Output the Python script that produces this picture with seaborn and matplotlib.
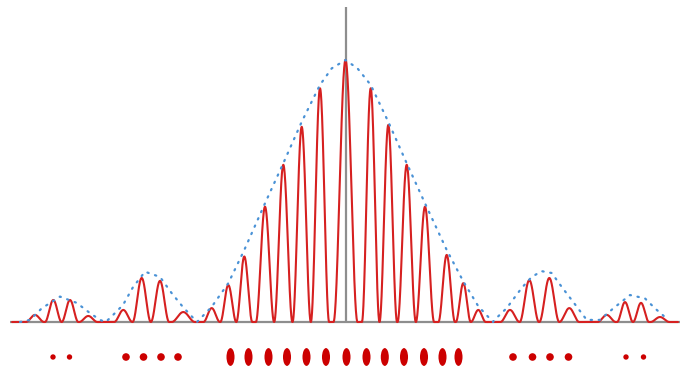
import numpy as np
import pandas as pd
import matplotlib
matplotlib.use("Agg")
import matplotlib.pyplot as plt
import seaborn as sns
from matplotlib.path import Path

# ---- data (x relative to the central fringe, intensity normalised to centre = 1)
fringe_x = [-310.5, -292.2, -275.5, -257.2,
            -222.2, -203.8, -185.5, -162.2,
            -133.8, -117.2, -101.2, -80.5, -62.2, -43.8, -25.5, 0.0,
            25.2, 42.8, 61.2, 79.5, 101.2, 117.8, 132.8,
            164.5, 183.8, 203.8, 223.8,
            261.2, 279.5, 295.5, 314.5]
fringe_h = [0.027, 0.084, 0.084, 0.023,
            0.046, 0.168, 0.157, 0.038,
            0.053, 0.141, 0.25, 0.44, 0.60, 0.745, 0.892, 1.0,
            0.892, 0.752, 0.60, 0.44, 0.256, 0.148, 0.046,
            0.046, 0.16, 0.168, 0.053,
            0.027, 0.076, 0.073, 0.019]

envelope_x = [-325.5, -315.5, -303.8, -285.5, -268.8, -255.5, -245.5,
              -240.0, -235.5, -222.5, -212.5, -200.5, -185.5, -173.8, -162.5, -150.5,
              -148.5, -133.8, -117.2, -101.2, -80.5, -62.2, -43.8, -25.5, -13.8, 0.0,
              12.0, 25.2, 42.8, 61.2, 79.5, 101.2, 117.8, 132.8, 147.5,
              149.0, 161.2, 176.2, 186.2, 196.2, 206.2, 216.2, 227.8, 241.2,
              254.5, 267.8, 284.5, 299.5, 309.5, 322.8]
envelope_y = [0.0, 0.008, 0.052, 0.097, 0.073, 0.034, 0.008,
              0.0, 0.015, 0.065, 0.133, 0.192, 0.172, 0.11, 0.057, 0.008,
              0.0, 0.058, 0.148, 0.275, 0.453, 0.606, 0.764, 0.905, 0.968, 1.0,
              0.968, 0.905, 0.764, 0.606, 0.453, 0.275, 0.155, 0.06, 0.0,
              0.008, 0.053, 0.13, 0.172, 0.194, 0.187, 0.134, 0.076, 0.008,
              0.008, 0.052, 0.103, 0.09, 0.052, 0.008]

spot_x = [-292.5, -276.0,
          -219.5, -202.0, -184.5, -167.5,
          -115.0, -97.0, -77.0, -58.5, -39.0, -19.5, 1.0, 21.0, 39.3, 58.5, 78.5, 97.0, 113.0,
          167.5, 187.0, 204.5, 223.0,
          280.5, 298.0]
spot_order = [2, 2,
              1, 1, 1, 1,
              0, 0, 0, 0, 0, 0, 0, 0, 0, 0, 0, 0, 0,
              1, 1, 1, 1,
              2, 2]

# ---- figure
W, H = 680, 385
fig = plt.figure(figsize=(W / 100, H / 100), dpi=100)
ax = fig.add_axes([0, 0, 1, 1])
sns.set_style("white")
ax.set_axis_off()

scale = 262.0           # pixels per unit intensity
x0, y0 = 345.5, 322.0   # pixel of centre / baseline
ax.set_xlim(-x0, W - x0)
ax.set_ylim(-(H - y0) / scale, y0 / scale)

# red fringe curve: each fringe drawn as a smooth cos^2 bump of the read height
xs = np.linspace(-x0, W - x0, 4000)
ys = np.zeros_like(xs)
fx = np.array(fringe_x)
for i, (xi, hi) in enumerate(zip(fringe_x, fringe_h)):
    gaps = []
    if i > 0:
        gaps.append(xi - fx[i - 1])
    if i < len(fx) - 1:
        gaps.append(fx[i + 1] - xi)
    w = min(min(gaps) / 2.0, 12.0)
    m = np.abs(xs - xi) < w
    ys[m] += hi * np.cos(np.pi * (xs[m] - xi) / (2 * w)) ** 2
curve = pd.DataFrame({"x": xs, "y": ys})
curve = curve[(curve.x > -x0 + 12) & (curve.x < W - x0 - 2)]

# axes lines
gray = "#8e8e8e"
ax.plot([-x0 + 10, W - x0], [0, 0], color=gray, lw=1.6, zorder=1, solid_capstyle="butt")
ax.plot([0.5, 0.5], [0, (y0 - 7) / scale], color=gray, lw=1.6, zorder=1, solid_capstyle="butt")

sns.lineplot(data=curve, x="x", y="y", ax=ax, color="#d62020", lw=1.5,
             sort=False, estimator=None, zorder=3)

env = pd.DataFrame({"x": envelope_x, "y": envelope_y})
sns.lineplot(data=env, x="x", y="y", ax=ax, color="#4a92d6", lw=1.6,
             linestyle=(0, (0.6, 3.0)), sort=False, estimator=None, zorder=4,
             dash_capstyle="round")

# spots below
circle = Path.unit_circle()
ellipse = Path(circle.vertices * np.array([0.45, 1.0]), circle.codes)
spot_y = -(357 - y0) / scale
spots = pd.DataFrame({"x": spot_x, "o": spot_order})
styles = {0: (ellipse, 165), 1: ("o", 30), 2: ("o", 15)}
for o, (mk, s) in styles.items():
    d = spots[spots.o == o]
    sns.scatterplot(x=d.x, y=[spot_y] * len(d), ax=ax, marker=mk, s=s,
                    color="#cc0000", edgecolor="none", linewidth=0, legend=False)

ax.set_xlabel("")
ax.set_ylabel("")
fig.savefig("out.png", dpi=100)
